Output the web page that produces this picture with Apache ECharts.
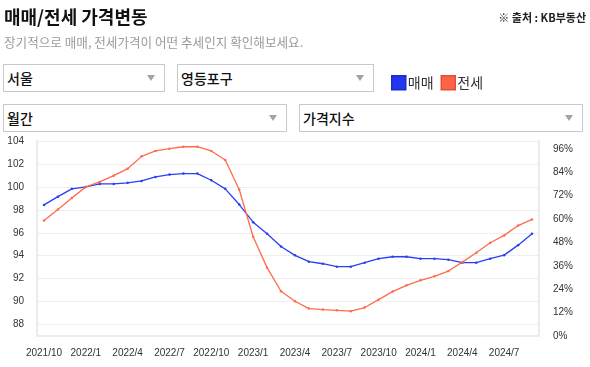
<!DOCTYPE html>
<html>
<head>
<meta charset="utf-8">
<script src="https://cdn.jsdelivr.net/npm/echarts@6/dist/echarts.min.js"></script>
<style>
  html, body { margin:0; padding:0; background:#fff; }
  #wrap { position:relative; width:590px; height:367px; overflow:hidden; }
  #chart { position:absolute; left:0; top:0; width:590px; height:367px; }
  .sel { position:absolute; box-sizing:border-box; border:1px solid #c8c9d0; background:#fff;
         font-family:"Noto Sans CJK KR", sans-serif; font-size:14px; font-weight:500; color:#111;
         padding-left:3px; height:28px; line-height:26px; z-index:2; }
  .sel::after { content:""; position:absolute; right:9px; top:10px; width:0; height:0;
         border-left:4px solid transparent; border-right:4px solid transparent; border-top:6px solid #a3a3a3; }
</style>
</head>
<body>
<div id="wrap">
  <div id="chart"></div>
  <div class="sel" style="left:3px;top:64px;width:162px;">서울</div>
  <div class="sel" style="left:177px;top:64px;width:197px;">영등포구</div>
  <div class="sel" style="left:3px;top:104px;width:284px;">월간</div>
  <div class="sel" style="left:299px;top:104px;width:284px;">가격지수</div>
</div>
<script>
const categories = [
  '2021/10','2021/11','2021/12','2022/1','2022/2','2022/3','2022/4','2022/5','2022/6',
  '2022/7','2022/8','2022/9','2022/10','2022/11','2022/12','2023/1','2023/2','2023/3',
  '2023/4','2023/5','2023/6','2023/7','2023/8','2023/9','2023/10','2023/11','2023/12',
  '2024/1','2024/2','2024/3','2024/4','2024/5','2024/6','2024/7','2024/8','2024/9'
];
const saleIndex = [
  98.43, 99.15, 99.83, 100.0, 100.26, 100.26, 100.35, 100.52, 100.87,
  101.07, 101.16, 101.16, 100.58, 99.83, 98.46, 96.92, 95.91, 94.8,
  94.03, 93.48, 93.30, 93.04, 93.04, 93.39, 93.74, 93.91, 93.91,
  93.74, 93.74, 93.65, 93.39, 93.39, 93.74, 94.05, 94.92, 95.91
];
const jeonseIndex = [
  97.07, 98.03, 99.04, 100.0, 100.43, 100.98, 101.59, 102.66, 103.13,
  103.33, 103.5, 103.5, 103.13, 102.35, 99.77, 95.65, 92.96, 90.9,
  90.03, 89.39, 89.30, 89.24, 89.16, 89.48, 90.17, 90.87, 91.42,
  91.85, 92.20, 92.66, 93.44, 94.26, 95.13, 95.77, 96.63, 97.16
];
const seriesNames = ['매매', '전세'];
const titleText = '매매/전세 가격변동';
const subtitleText = '장기적으로 매매, 전세가격이 어떤 추세인지 확인해보세요.';
const sourceText = '※ 출처 : KB부동산';

const FONT = '"Noto Sans CJK KR", sans-serif';
const TICKFONT = '"Liberation Sans", Arial, sans-serif';
const BLUE = '#2a3ff4';
const RED = '#ff6b4c';

const chart = echarts.init(document.getElementById('chart'), null, {renderer:'canvas'});
chart.setOption({
  animation: false,
  backgroundColor: '#fff',
  graphic: [
    {type:'text', style:{x:4, y:17, text:titleText, fill:'#111', verticalAlign:'middle',
      font:'bold 18px ' + FONT}},
    {type:'text', style:{x:4, y:42, text:subtitleText, fill:'#9a9a9a', verticalAlign:'middle',
      font:'12.6px ' + FONT}},
    {type:'text', style:{x:586, y:18, text:sourceText, fill:'#222', align:'right', verticalAlign:'middle',
      font:'bold 11px ' + FONT}}
  ],
  legend: {
    left: 386, top: 70, itemWidth: 14, itemHeight: 14, itemGap: 7, icon: 'rect',
    textStyle: {fontFamily: FONT, fontSize: 14, color: '#333', padding:[0,0,0,-3]},
    data: [
      {name: seriesNames[0], itemStyle: {color: '#2236f2', borderColor: '#1a2cc8', borderWidth: 1.5}},
      {name: seriesNames[1], itemStyle: {color: '#ff6347', borderColor: '#e0513a', borderWidth: 1.5}}
    ]
  },
  grid: {left: 37, right: 51, top: 141, bottom: 31, containLabel: false},
  xAxis: {
    type: 'category', data: categories, boundaryGap: true,
    axisLine: {show: true, lineStyle: {color: '#ececec', width: 2}},
    axisTick: {show: false},
    splitLine: {show: false},
    axisLabel: {interval: 2, margin: 12, color: '#333', fontSize: 10, fontFamily: TICKFONT}
  },
  yAxis: [
    {
      type: 'value', min: 87, max: 104, splitNumber: 8, minInterval: 2, maxInterval: 2, position: 'left',
      axisLine: {show: true, lineStyle: {color: '#ececec', width: 2}},
      axisTick: {show: false},
      splitLine: {show: true, lineStyle: {color: '#eeeeee', width: 1}},
      axisLabel: {showMinLabel: false, margin: 13, color: '#333', fontSize: 10, fontFamily: TICKFONT}
    },
    {
      type: 'value', min: 0, max: 100, interval: 12, position: 'right',
      axisLine: {show: true, lineStyle: {color: '#ececec', width: 2}},
      axisTick: {show: false},
      splitLine: {show: false},
      axisLabel: {showMaxLabel: false, margin: 14, color: '#333', fontSize: 10, fontFamily: TICKFONT,
        formatter: '{value}%'}
    }
  ],
  series: [
    {name: seriesNames[0], type: 'line', yAxisIndex: 0, data: saleIndex,
     symbol: 'circle', symbolSize: 2.5, showSymbol: true,
     lineStyle: {color: BLUE, width: 1.3}, itemStyle: {color: BLUE}},
    {name: seriesNames[1], type: 'line', yAxisIndex: 0, data: jeonseIndex,
     symbol: 'circle', symbolSize: 2.5, showSymbol: true,
     lineStyle: {color: RED, width: 1.3}, itemStyle: {color: RED}}
  ]
});
</script>
</body>
</html>
